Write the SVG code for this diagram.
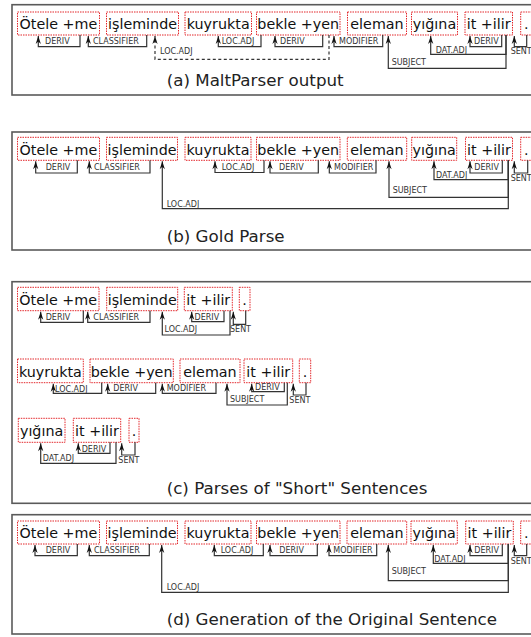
<svg xmlns="http://www.w3.org/2000/svg" width="531" height="637" viewBox="0 0 531 637">
<defs>
<marker id="ah" viewBox="-9 -4 10 8" markerWidth="10" markerHeight="8" refX="0" refY="0" orient="auto" markerUnits="userSpaceOnUse">
<path d="M0,0 L-8,-2.6 L-5.5,0 L-8,2.6 Z" fill="#111"/>
</marker>
<style>
.panel{fill:none;stroke:#5a5a5a;stroke-width:1.6}
.box{fill:#fff;stroke:#e3262b;stroke-width:1;stroke-dasharray:1.5 1}
.w{font-family:"DejaVu Sans",sans-serif;font-size:14.3px;fill:#111;text-anchor:middle}
.lbl{font-family:"DejaVu Sans",sans-serif;font-size:8px;fill:#333}
.cap{font-family:"DejaVu Sans",sans-serif;font-size:16.7px;fill:#222}
.edge{fill:none;stroke:#333;stroke-width:1.2;marker-end:url(#ah)}
.dash{stroke-dasharray:3 2.5}
</style>
</defs>
<rect width="531" height="637" fill="#fff"/>

<!-- Panel (a) -->
<g id="panel-a">
<rect class="panel" x="12" y="4.7" width="530" height="90.3"/>
<g id="a-n1"><rect class="box" x="17.5" y="12" width="82" height="23"/><text class="w" x="58.4" y="29.3">Ötele +me</text></g>
<g id="a-n2"><rect class="box" x="106.5" y="12" width="72" height="23"/><text class="w" x="142.5" y="29.3">işleminde</text></g>
<g id="a-n3"><rect class="box" x="185" y="12" width="66.5" height="23"/><text class="w" x="218.2" y="29.3">kuyrukta</text></g>
<g id="a-n4"><rect class="box" x="256.5" y="12" width="83.5" height="23"/><text class="w" x="298.2" y="29.3">bekle +yen</text></g>
<g id="a-n5"><rect class="box" x="347.5" y="12" width="59" height="23"/><text class="w" x="377" y="29.3">eleman</text></g>
<g id="a-n6"><rect class="box" x="411.5" y="12" width="46" height="23"/><text class="w" x="434.5" y="29.3">yığına</text></g>
<g id="a-n7"><rect class="box" x="465" y="12" width="47.5" height="23"/><text class="w" x="488.7" y="29.3">it +ilir</text></g>
<g id="a-n8"><rect class="box" x="520.7" y="12" width="11" height="23"/><text class="w" x="526.2" y="29.3">.</text></g>
<g id="a-edges">
<path class="edge" d="M80,35 V46.7 H38.3 V36"/><text class="lbl" x="45" y="44">DERIV</text>
<path class="edge" d="M146.7,35 V46.7 H88.3 V36"/><text class="lbl" x="93" y="44">CLASSIFIER</text>
<path class="edge dash" d="M329,35 V59.3 H155 V36"/><text class="lbl" x="160" y="53.5">LOC.ADJ</text>
<path class="edge" d="M261,35 V46.7 H218.3 V36"/><text class="lbl" x="221.7" y="44">LOC.ADJ</text>
<path class="edge" d="M322.7,35 V46.7 H275 V36"/><text class="lbl" x="280" y="44">DERIV</text>
<path class="edge" d="M382.7,35 V46.7 H334 V36"/><text class="lbl" x="339" y="44">MODIFIER</text>
<path class="edge" d="M506,35 V68.3 H388.3 V36"/><text class="lbl" x="391.7" y="65">SUBJECT</text>
<path class="edge" d="M506,35 V54.3 H430.7 V36"/><text class="lbl" x="435.7" y="53">DAT.ADJ</text>
<path class="edge" d="M501.7,35 V46.7 H470 V36"/><text class="lbl" x="474" y="44">DERIV</text>
<path class="edge" d="M526.7,35 V46.7 H514.3 V36"/><text class="lbl" x="510.7" y="54">SENT</text>
</g>
<text class="cap" x="166.7" y="86">(a) MaltParser output</text>
</g>

<!-- Panel (b) -->
<g id="panel-b">
<rect class="panel" x="12" y="132" width="530" height="118"/>
<g id="b-n1"><rect class="box" x="17.5" y="137.3" width="82" height="23"/><text class="w" x="58.4" y="154.6">Ötele +me</text></g>
<g id="b-n2"><rect class="box" x="106.5" y="137.3" width="71" height="23"/><text class="w" x="142" y="154.6">işleminde</text></g>
<g id="b-n3"><rect class="box" x="185" y="137.3" width="66" height="23"/><text class="w" x="218" y="154.6">kuyrukta</text></g>
<g id="b-n4"><rect class="box" x="256.5" y="137.3" width="83.5" height="23"/><text class="w" x="298.2" y="154.6">bekle +yen</text></g>
<g id="b-n5"><rect class="box" x="347.3" y="137.3" width="59.4" height="23"/><text class="w" x="377" y="154.6">eleman</text></g>
<g id="b-n6"><rect class="box" x="411.7" y="137.3" width="45" height="23"/><text class="w" x="434.2" y="154.6">yığına</text></g>
<g id="b-n7"><rect class="box" x="465.5" y="137.3" width="47" height="23"/><text class="w" x="489" y="154.6">it +ilir</text></g>
<g id="b-n8"><rect class="box" x="520.7" y="137.3" width="11" height="23"/><text class="w" x="526.2" y="154.6">.</text></g>
<g id="b-edges">
<path class="edge" d="M77.3,160.3 V173 H35.7 V161.3"/><text class="lbl" x="45.7" y="169.7">DERIV</text>
<path class="edge" d="M150,160.3 V173 H89.3 V161.3"/><text class="lbl" x="94" y="169.7">CLASSIFIER</text>
<path class="edge" d="M508.3,160.3 V208.7 H162.3 V161.3"/><text class="lbl" x="166.7" y="207">LOC.ADJ</text>
<path class="edge" d="M264,160.3 V172.5 H215 V161.3"/><text class="lbl" x="221.7" y="169.7">LOC.ADJ</text>
<path class="edge" d="M318.3,160.3 V173 H270 V161.3"/><text class="lbl" x="279" y="169.7">DERIV</text>
<path class="edge" d="M376,160.3 V173 H329.3 V161.3"/><text class="lbl" x="334" y="169.7">MODIFIER</text>
<path class="edge" d="M508.3,160.3 V197.3 H389 V161.3"/><text class="lbl" x="392.7" y="192.5">SUBJECT</text>
<path class="edge" d="M508.3,160.3 V179.7 H434 V161.3"/><text class="lbl" x="436" y="178">DAT.ADJ</text>
<path class="edge" d="M502.3,160.3 V173 H470 V161.3"/><text class="lbl" x="474.3" y="169.7">DERIV</text>
<path class="edge" d="M527.7,160.3 V173 H514.3 V161.3"/><text class="lbl" x="510.7" y="181.3">SENT</text>
</g>
<text class="cap" x="166.7" y="242">(b) Gold Parse</text>
</g>

<!-- Panel (c) -->
<g id="panel-c">
<rect class="panel" x="12" y="281.7" width="530" height="221.6"/>
<g id="c-n1"><rect class="box" x="17.5" y="287.3" width="81.5" height="23.4"/><text class="w" x="58.2" y="305">Ötele +me</text></g>
<g id="c-n2"><rect class="box" x="106.7" y="287.3" width="71" height="23.4"/><text class="w" x="142.2" y="305">işleminde</text></g>
<g id="c-n3"><rect class="box" x="184.3" y="287.3" width="48" height="23.4"/><text class="w" x="208.3" y="305">it +ilir</text></g>
<g id="c-n4"><rect class="box" x="239.3" y="287.3" width="10.7" height="23.4"/><text class="w" x="244.6" y="305">.</text></g>
<g id="c-n5"><rect class="box" x="17.5" y="359" width="65.8" height="23.7"/><text class="w" x="50.4" y="376.8">kuyrukta</text></g>
<g id="c-n6"><rect class="box" x="90" y="359" width="83.3" height="23.7"/><text class="w" x="131.6" y="376.8">bekle +yen</text></g>
<g id="c-n7"><rect class="box" x="180" y="359" width="60" height="23.7"/><text class="w" x="210" y="376.8">eleman</text></g>
<g id="c-n8"><rect class="box" x="244" y="359" width="48.7" height="23.7"/><text class="w" x="268.3" y="376.8">it +ilir</text></g>
<g id="c-n9"><rect class="box" x="299.3" y="359" width="11.4" height="23.7"/><text class="w" x="305" y="376.8">.</text></g>
<g id="c-n10"><rect class="box" x="18.3" y="418.3" width="46.7" height="24"/><text class="w" x="41.6" y="436.4">yığına</text></g>
<g id="c-n11"><rect class="box" x="73.3" y="418.3" width="47.4" height="24"/><text class="w" x="97" y="436.4">it +ilir</text></g>
<g id="c-n12"><rect class="box" x="129" y="418.3" width="10" height="24"/><text class="w" x="134" y="436.4">.</text></g>
<g id="c-edges">
<path class="edge" d="M83.3,310.7 V322.3 H40.7 V311.7"/><text class="lbl" x="45.7" y="319.5">DERIV</text>
<path class="edge" d="M150,310.7 V322.3 H87.7 V311.7"/><text class="lbl" x="93.3" y="319.5">CLASSIFIER</text>
<path class="edge" d="M230,310.7 V335 H162.3 V311.7"/><text class="lbl" x="164.5" y="331.7">LOC.ADJ</text>
<path class="edge" d="M224,310.7 V321.7 H191.7 V311.7"/><text class="lbl" x="194.5" y="319.5">DERIV</text>
<path class="edge" d="M245.7,310.7 V324.3 H233.3 V311.7"/><text class="lbl" x="230" y="331.7">SENT</text>
<path class="edge" d="M101.7,382.7 V393.3 H53.3 V383.7"/><text class="lbl" x="55" y="392.3">LOC.ADJ</text>
<path class="edge" d="M155.7,382.7 V393.3 H107.7 V383.7"/><text class="lbl" x="113.3" y="391">DERIV</text>
<path class="edge" d="M216,382.7 V393.3 H162.3 V383.7"/><text class="lbl" x="166.7" y="391">MODIFIER</text>
<path class="edge" d="M287.3,382.7 V405 H227 V383.7"/><text class="lbl" x="230" y="401.7">SUBJECT</text>
<path class="edge" d="M284.3,382.7 V391.7 H251.7 V383.7"/><text class="lbl" x="255" y="389.5">DERIV</text>
<path class="edge" d="M306,382.7 V395 H293.3 V383.7"/><text class="lbl" x="289.3" y="403.3">SENT</text>
<path class="edge" d="M116,442.3 V463.3 H40.7 V443.3"/><text class="lbl" x="42.7" y="461">DAT.ADJ</text>
<path class="edge" d="M110,442.3 V453.3 H78.3 V443.3"/><text class="lbl" x="81.7" y="451.5">DERIV</text>
<path class="edge" d="M135,442.3 V455 H121.7 V443.3"/><text class="lbl" x="118.3" y="463.3">SENT</text>
</g>
<text class="cap" x="166.7" y="494">(c) Parses of "Short" Sentences</text>
</g>

<!-- Panel (d) -->
<g id="panel-d" transform="translate(0,383.7)">
<rect class="panel" x="12" y="131" width="530" height="119.3"/>
<g id="d-n1"><rect class="box" x="17.5" y="137.3" width="82" height="23"/><text class="w" x="58.4" y="154.6">Ötele +me</text></g>
<g id="d-n2"><rect class="box" x="106.5" y="137.3" width="71" height="23"/><text class="w" x="142" y="154.6">işleminde</text></g>
<g id="d-n3"><rect class="box" x="185" y="137.3" width="66" height="23"/><text class="w" x="218" y="154.6">kuyrukta</text></g>
<g id="d-n4"><rect class="box" x="256.5" y="137.3" width="83.5" height="23"/><text class="w" x="298.2" y="154.6">bekle +yen</text></g>
<g id="d-n5"><rect class="box" x="347" y="137.3" width="59.7" height="23"/><text class="w" x="377" y="154.6">eleman</text></g>
<g id="d-n6"><rect class="box" x="411" y="137.3" width="46.3" height="23"/><text class="w" x="434.2" y="154.6">yığına</text></g>
<g id="d-n7"><rect class="box" x="465.7" y="137.3" width="47.6" height="23"/><text class="w" x="489.5" y="154.6">it +ilir</text></g>
<g id="d-n8"><rect class="box" x="520.7" y="137.3" width="11" height="23"/><text class="w" x="526.2" y="154.6">.</text></g>
<g id="d-edges">
<path class="edge" d="M77.3,160.3 V172 H35 V161.3"/><text class="lbl" x="45.7" y="169.5">DERIV</text>
<path class="edge" d="M149.3,160.3 V172 H89.3 V161.3"/><text class="lbl" x="94" y="169.5">CLASSIFIER</text>
<path class="edge" d="M508.3,160.3 V208.6 H161.7 V161.3"/><text class="lbl" x="166.7" y="206.3">LOC.ADJ</text>
<path class="edge" d="M263.3,160.3 V172 H214.3 V161.3"/><text class="lbl" x="220.7" y="169.5">LOC.ADJ</text>
<path class="edge" d="M317.3,160.3 V172 H270 V161.3"/><text class="lbl" x="279.3" y="169.5">DERIV</text>
<path class="edge" d="M376.7,160.3 V172 H329 V161.3"/><text class="lbl" x="333.3" y="169.5">MODIFIER</text>
<path class="edge" d="M508.3,160.3 V197 H388.3 V161.3"/><text class="lbl" x="391.7" y="190.6">SUBJECT</text>
<path class="edge" d="M508.3,160.3 V179.6 H433.3 V161.3"/><text class="lbl" x="434.3" y="178">DAT.ADJ</text>
<path class="edge" d="M502.3,160.3 V172 H470 V161.3"/><text class="lbl" x="474.3" y="169.5">DERIV</text>
<path class="edge" d="M526.7,160.3 V172 H514.3 V161.3"/><text class="lbl" x="510.7" y="180.3">SENT</text>
</g>
<text class="cap" x="166.7" y="241.5">(d) Generation of the Original Sentence</text>
</g>
</svg>
